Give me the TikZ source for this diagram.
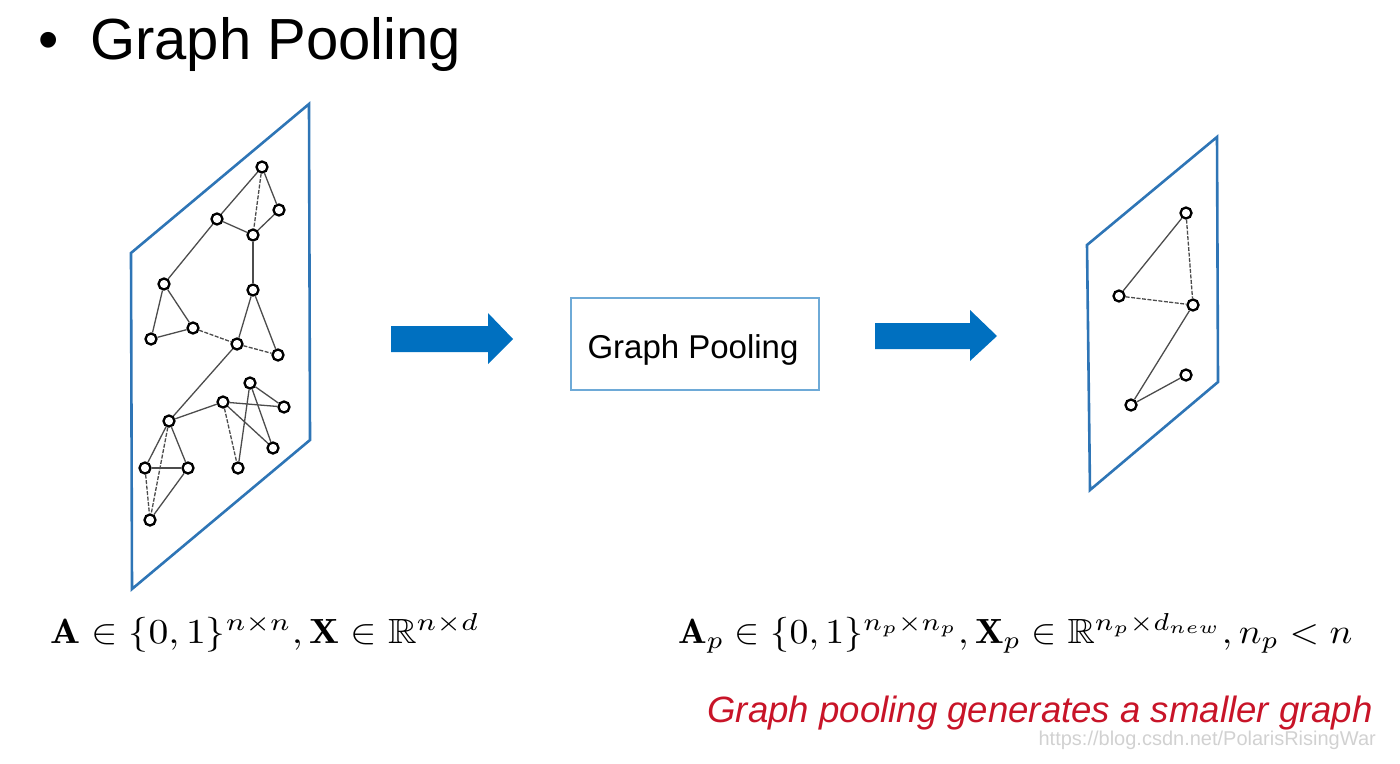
\documentclass[tikz,border=0pt]{standalone}
\usepackage{fontspec}
\usepackage{amsmath,amssymb}
\usepackage{graphicx}
\newfontfamily\arial{Liberation Sans}
\definecolor{planeblue}{RGB}{46,117,182}
\definecolor{arrowblue}{RGB}{0,112,192}
\definecolor{boxblue}{RGB}{110,170,215}
\definecolor{redtxt}{RGB}{200,20,40}
\begin{document}
\begin{tikzpicture}[x=1pt,y=-1pt,
  gn/.style={circle,draw=black,line width=2.3pt,fill=white,minimum size=11pt,inner sep=0pt},
  ge/.style={draw=black!70,line width=1.3pt},
  gd/.style={ge,dash pattern=on 4pt off 1.5pt},
  plane/.style={draw=planeblue,line width=2.6pt,line join=miter},
  barrow/.style={fill=arrowblue,draw=none}]
\useasboundingbox (0,0) rectangle (1400,763);
% title
\node[anchor=base west,inner sep=0pt] (bul) at (38,59) {\fontsize{58}{60}\arial\textbullet};
\node[anchor=base west,inner sep=0pt] (title) at (90,59) {\fontsize{58}{60}\arial Graph Pooling};
% left plane
\draw[plane] (131,253) -- (309,104) -- (310,440) -- (132,589) -- cycle;
% left graph nodes
\node[gn] (a1) at (262,167) {};
\node[gn] (a2) at (279,210) {};
\node[gn] (a3) at (217,219) {};
\node[gn] (a4) at (253,235) {};
\node[gn] (a5) at (164,284) {};
\node[gn] (a6) at (253,290) {};
\node[gn] (a7) at (193,328) {};
\node[gn] (a8) at (151,339) {};
\node[gn] (a9) at (237,344) {};
\node[gn] (a10) at (278,355) {};
\node[gn] (a11) at (250,383) {};
\node[gn] (a12) at (223,402) {};
\node[gn] (a13) at (284,407) {};
\node[gn] (a14) at (169,421) {};
\node[gn] (a15) at (273,448) {};
\node[gn] (a16) at (145,468) {};
\node[gn] (a17) at (188,468) {};
\node[gn] (a18) at (238,468) {};
\node[gn] (a19) at (150,520) {};
% left graph edges
\draw[ge] (a1) -- (a3);
\draw[gd] (a1) -- (a4);
\draw[ge] (a1) -- (a2);
\draw[ge] (a2) -- (a4);
\draw[ge] (a3) -- (a4);
\draw[ge] (a3) -- (a5);
\draw[ge] (a4) -- (a6);
\draw[ge] (a5) -- (a7);
\draw[ge] (a5) -- (a8);
\draw[ge] (a8) -- (a7);
\draw[gd] (a7) -- (a9);
\draw[ge] (a6) -- (a9);
\draw[ge] (a6) -- (a10);
\draw[gd] (a9) -- (a10);
\draw[ge] (a9) -- (a14);
\draw[ge] (a14) -- (a12);
\draw[ge] (a12) -- (a13);
\draw[ge] (a12) -- (a15);
\draw[gd] (a12) -- (a18);
\draw[ge] (a11) -- (a18);
\draw[ge] (a11) -- (a13);
\draw[ge] (a11) -- (a15);
\draw[ge] (a14) -- (a16);
\draw[ge] (a14) -- (a17);
\draw[gd] (a14) -- (a19);
\draw[ge] (a16) -- (a17);
\draw[gd] (a16) -- (a19);
\draw[ge] (a17) -- (a19);
% arrows
\draw[barrow] (391,326) -- (488,326) -- (488,313) -- (513,339) -- (488,364) -- (488,352) -- (391,352) -- cycle;
\node[draw=boxblue,line width=1.6pt,minimum width=248pt,minimum height=92pt,inner sep=0pt] (pool) at (695,344) {};
\node[anchor=base,inner sep=0pt] (pooltxt) at (693,358) {\fontsize{33}{36}\arial Graph Pooling};
\draw[barrow] (875,323) -- (970,323) -- (970,310) -- (997,336) -- (970,361) -- (970,349) -- (875,349) -- cycle;
% right plane
\draw[plane] (1087,245) -- (1217,137) -- (1218,382) -- (1090,490) -- cycle;
\node[gn] (b1) at (1186,213) {};
\node[gn] (b2) at (1119,296) {};
\node[gn] (b3) at (1193,305) {};
\node[gn] (b4) at (1186,375) {};
\node[gn] (b5) at (1131,405) {};
\draw[ge] (b1) -- (b2);
\draw[gd] (b1) -- (b3);
\draw[gd] (b2) -- (b3);
\draw[ge] (b3) -- (b5);
\draw[ge] (b5) -- (b4);
% formulas
\node[anchor=base west,inner sep=0pt] (fl) at (50,643) {\scalebox{3.97}[3.5]{$\mathbf{A}\in\{0,1\}^{n\times n},\mathbf{X}\in\mathbb{R}^{n\times d}$}};
\node[anchor=base west,inner sep=0pt] (fr) at (678,643) {\scalebox{3.79}[3.5]{$\mathbf{A}_p\in\{0,1\}^{n_p\times n_p},\mathbf{X}_p\in\mathbb{R}^{n_p\times d_{new}},n_p<n$}};
% caption
\node[anchor=base east,inner sep=0pt,text=redtxt] (cap) at (1373,722) {\fontsize{36.6}{40}\arial\itshape Graph pooling generates a smaller graph};
\node[anchor=base east,inner sep=0pt,text=black!18] (wm) at (1376,745) {\fontsize{20}{22}\arial https://blog.csdn.net/PolarisRisingWar};
\end{tikzpicture}
\end{document}
